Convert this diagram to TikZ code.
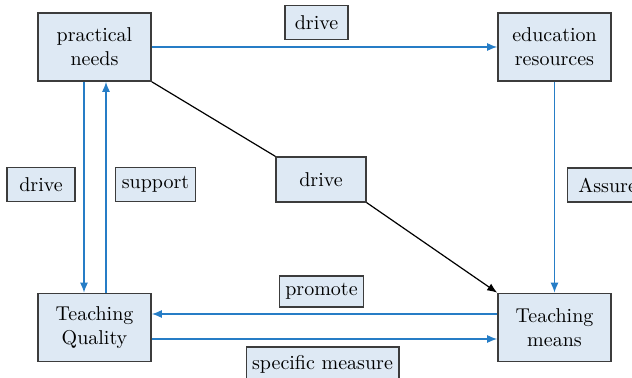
\documentclass[tikz,border=0pt]{standalone}
\usetikzlibrary{arrows.meta}
\definecolor{boxfill}{RGB}{222,233,244}
\definecolor{boxline}{RGB}{60,60,60}
\definecolor{flow}{RGB}{38,125,198}
\tikzset{
  mainbox/.style={draw=boxline, line width=0.8pt, fill=boxfill, align=center, minimum width=56.5pt, minimum height=34pt, inner sep=0pt},
  tag/.style={draw=boxline, line width=0.6pt, fill=boxfill, minimum height=17pt, inner xsep=3pt, inner ysep=0pt},
  flowline/.style={draw=flow, line width=0.7pt, -{Latex[length=5pt,width=4pt]}}
}
\begin{document}
\begin{tikzpicture}[x=0.5pt,y=-0.5pt]
\useasboundingbox (0,0) rectangle (632,378);
\node[mainbox] (needs) at (94.5,47) {practical\\needs};
\node[mainbox] (resources) at (554.5,47) {education\\resources};
\node[mainbox] (quality) at (94.5,327.5) {Teaching\\Quality};
\node[mainbox] (means) at (554.5,327.5) {Teaching\\means};
\node[tag, minimum width=31.5pt] (drivetop) at (316.5,22.5) {drive};
\node[tag, minimum width=34pt] (driveleft) at (41,184.5) {drive};
\node[tag, minimum width=36.5pt] (support) at (155.5,184.5) {support};
\node[tag, minimum width=45pt, minimum height=22.5pt] (drivemid) at (321,179.5) {drive};
\node[tag, anchor=west, minimum width=40pt] (assure) at (567,185) {Assure};
\node[tag, minimum width=40.5pt, minimum height=15.5pt] (promote) at (321.5,291.5) {promote};
\node[tag, minimum width=73.5pt] (specific) at (322.5,364) {specific measure};
\draw[flowline] (needs.east) -- (resources.west);
\draw[flowline] (resources.south) -- (means.north);
\draw[flowline] ([xshift=-5.25pt]needs.south) -- ([xshift=-5.25pt]quality.north);
\draw[flowline] ([xshift=5.75pt]quality.north) -- ([xshift=5.75pt]needs.south);
\draw[flowline] ([yshift=6.75pt]means.west) -- ([yshift=6.75pt]quality.east);
\draw[flowline] ([yshift=-5.75pt]quality.east) -- ([yshift=-5.75pt]means.west);
\draw[black, line width=0.6pt] (needs.south east) -- (drivemid.north west);
\draw[black, line width=0.6pt, -{Latex[length=5pt,width=4pt]}] (drivemid.south east) -- (means.north west);
\end{tikzpicture}
\end{document}
